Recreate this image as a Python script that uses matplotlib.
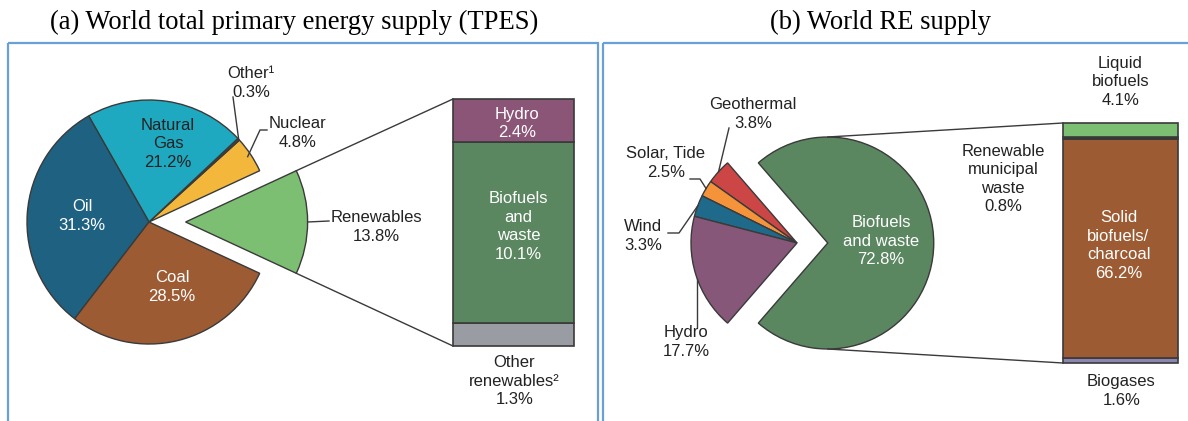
import numpy as np
import matplotlib
matplotlib.use('Agg')
import matplotlib.pyplot as plt
from matplotlib.patches import Rectangle

# (a) world total primary energy supply, pie runs counter-clockwise from the exploded slice
tpes_names = ['Renewables', 'Nuclear', 'Other¹', 'Natural\nGas', 'Oil', 'Coal']
tpes_values = [13.8, 4.8, 0.3, 21.2, 31.3, 28.5]
tpes_colors = ['#7dbf72', '#f3b73b', '#444444', '#1ea9c1', '#1f6180', '#9c5b33']

# renewables split of (a), bottom to top
ren_names = ['Other\nrenewables²', 'Biofuels\nand\nwaste', 'Hydro']
ren_values = [1.3, 10.1, 2.4]
ren_colors = ['#9a9ca3', '#5a8660', '#8b5577']

# (b) world RE supply
re_names = ['Biofuels\nand waste', 'Geothermal', 'Solar, Tide', 'Wind', 'Hydro']
re_values = [72.8, 3.8, 2.5, 3.3, 17.7]
re_colors = ['#5a8660', '#cc4646', '#f5933b', '#1f6a8a', '#875779']

# biofuels split of (b), bottom to top
bio_names = ['Biogases', 'Solid\nbiofuels/\ncharcoal', 'Renewable\nmunicipal\nwaste', 'Liquid\nbiofuels']
bio_values = [1.6, 66.2, 0.8, 4.1]
bio_colors = ['#8a86b0', '#9c5b33', '#2b2b2b', '#7dbf72']

W, H = 1188, 421
plt.rcParams['font.family'] = ['Liberation Sans', 'DejaVu Sans']
fig = plt.figure(figsize=(W / 100, H / 100), dpi=100)

EDGE = '#3a3a3a'
DARK = '#222222'
FS = 12


def px_axes(x0, y0, x1, y1):
    return fig.add_axes([x0 / W, 1 - y1 / H, (x1 - x0) / W, (y1 - y0) / H])


def to_px(ax, x, y):
    X, Y = ax.transData.transform((x, y))
    return X, H - Y


def wedge_pt(ax, w, ang, frac=1.0):
    a = np.deg2rad(ang)
    cx, cy = w.center
    return to_px(ax, cx + frac * w.r * np.cos(a), cy + frac * w.r * np.sin(a))


def pie_axes(cx, cy, r, values, colors, explode):
    half = 200
    ax = px_axes(cx - half, cy - half, cx + half, cy + half)
    start = -values[0] / sum(values) * 180
    wedges, _ = ax.pie(values, colors=colors, startangle=start, counterclock=True,
                       explode=[explode] + [0] * (len(values) - 1),
                       wedgeprops=dict(edgecolor=EDGE, linewidth=1))
    ax.set_xlim(-half / r, half / r)
    ax.set_ylim(-half / r, half / r)
    return ax, wedges


def bar_axes(x0, y0, x1, y1, values, colors):
    ax = px_axes(x0, y0, x1, y1)
    bottoms = np.cumsum(values) - np.array(values)
    ax.bar(0, values, bottom=bottoms, width=1, color=colors, edgecolor=EDGE,
           linewidth=1.2, clip_on=False)
    ax.set_xlim(-0.5, 0.5)
    ax.set_ylim(0, sum(values))
    ax.axis('off')
    return ax, bottoms


ax_pa, wa = pie_axes(149, 222, 122, tpes_values, tpes_colors, 0.30)
ax_ba, bot_a = bar_axes(453, 99, 574, 346, ren_values, ren_colors)
ax_pb, wb = pie_axes(797, 243, 106, re_values, re_colors, 0.29)
ax_bb, bot_b = bar_axes(1063, 123, 1178, 363, bio_values, bio_colors)

# overlay in pixel coordinates for frames, titles, leader lines and labels
ov = fig.add_axes([0, 0, 1, 1])
ov.set_xlim(0, W)
ov.set_ylim(H, 0)
ov.axis('off')

frame = '#6aa0d8'
ov.add_patch(Rectangle((8, 43), 590, 400, fill=False, edgecolor=frame, linewidth=1.6))
ov.add_patch(Rectangle((603, 43), 600, 400, fill=False, edgecolor=frame, linewidth=1.6))
ov.text(294, 22, '(a) World total primary energy supply (TPES)', family='Liberation Serif',
        fontsize=19.2, ha='center', va='center', color='black')
ov.text(881, 22, '(b) World RE supply', family='Liberation Serif',
        fontsize=19.2, ha='center', va='center', color='black')


def lbl(x, y, s, color=DARK):
    ov.text(x, y, s, fontsize=FS, ha='center', va='center', color=color, linespacing=1.3)


def leader(pts):
    xs, ys = zip(*pts)
    ov.plot(xs, ys, color=EDGE, linewidth=1)


# zoom connectors
w0 = wa[0]
bx, by = to_px(ax_ba, -0.5, sum(ren_values))
p = wedge_pt(ax_pa, w0, w0.theta2)
leader([p, (bx, by)])
bx, by = to_px(ax_ba, -0.5, 0)
p = wedge_pt(ax_pa, w0, w0.theta1)
leader([p, (bx, by)])

w0 = wb[0]
bx, by = to_px(ax_bb, -0.5, sum(bio_values))
p = wedge_pt(ax_pb, w0, 90)
leader([p, (bx, by)])
bx, by = to_px(ax_bb, -0.5, 0)
p = wedge_pt(ax_pb, w0, 270)
leader([p, (bx, by)])

# (a) labels
pct = [f'{v}%' for v in tpes_values]
lbl(82, 216, f'{tpes_names[4]}\n{pct[4]}', 'white')
lbl(168, 144, f'{tpes_names[3]}\n{pct[3]}')
lbl(172, 287, f'{tpes_names[5]}\n{pct[5]}', 'white')
lbl(251, 83, f'{tpes_names[2]}\n{pct[2]}')
leader([(233, 97), wedge_pt(ax_pa, wa[2], (wa[2].theta1 + wa[2].theta2) / 2)])
lbl(298, 133, f'{tpes_names[1]}\n{pct[1]}')
leader([(267, 130), (260, 130), wedge_pt(ax_pa, wa[1], (wa[1].theta1 + wa[1].theta2) / 2, 0.97)])
lbl(376, 227, f'{tpes_names[0]}\n{pct[0]}')
p = wedge_pt(ax_pa, wa[0], 0)
leader([p, (329, p[1] - 1)])

cx = to_px(ax_ba, 0, 0)[0]
_, y = to_px(ax_ba, 0, bot_a[2] + ren_values[2] / 2)
lbl(cx + 4, y + 3, f'{ren_names[2]}\n{ren_values[2]}%', 'white')
_, y = to_px(ax_ba, 0, bot_a[1] + ren_values[1] / 2)
lbl(cx + 5, y - 6, f'{ren_names[1]}\n{ren_values[1]}%', 'white')
lbl(cx + 1, 381, f'{ren_names[0]}\n{ren_values[0]}%')

# (b) labels
pct = [f'{v}%' for v in re_values]
lbl(881, 241, f'{re_names[0]}\n{pct[0]}', 'white')
lbl(753, 114, f'{re_names[1]}\n{pct[1]}')
leader([(729, 128), wedge_pt(ax_pb, wb[1], (wb[1].theta1 + wb[1].theta2) / 2)])
lbl(666, 163, f'{re_names[2]}\n{pct[2]}')
leader([(690, 179), (700, 179), wedge_pt(ax_pb, wb[2], (wb[2].theta1 + wb[2].theta2) / 2)])
lbl(643, 236, f'{re_names[3]}\n{pct[3]}')
leader([(668, 233), (679, 233), wedge_pt(ax_pb, wb[3], (wb[3].theta1 + wb[3].theta2) / 2)])
lbl(686, 342, f'{re_names[4]}\n{pct[4]}')
p = wedge_pt(ax_pb, wb[4], 200)
leader([p, (p[0], 327)])

cx = to_px(ax_bb, 0, 0)[0]
lbl(cx, 82, f'{bio_names[3]}\n{bio_values[3]}%')
lbl(1003, 179, f'{bio_names[2]}\n{bio_values[2]}%')
_, y = to_px(ax_bb, 0, bot_b[1] + bio_values[1] / 2)
lbl(cx - 2, y - 3, f'{bio_names[1]}\n{bio_values[1]}%', 'white')
lbl(cx + 1, 391, f'{bio_names[0]}\n{bio_values[0]}%')

fig.savefig('out.png', dpi=100)
